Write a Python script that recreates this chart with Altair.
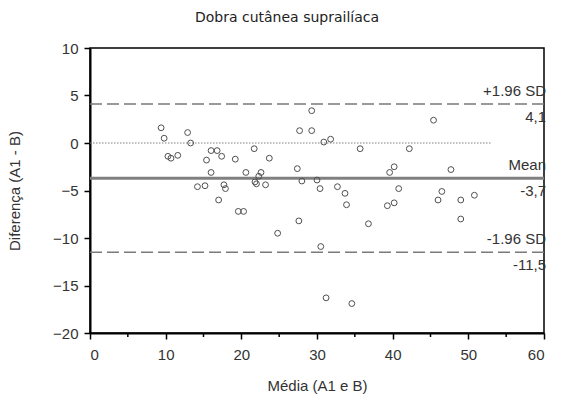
import altair as alt
import pandas as pd

# Bland-Altman data
mean_ab = [9.4, 9.8, 12.9, 13.3, 10.3, 10.7, 11.6, 16.0, 16.8, 17.4,
           15.4, 19.2, 21.7, 16.0, 20.6, 22.6, 22.3, 21.8, 22.0, 14.2,
           15.2, 17.7, 17.9, 23.2, 17.0, 19.6, 20.3, 23.7, 24.8, 27.4,
           27.7, 29.3, 29.3, 28.0, 30.0, 30.4, 30.9, 31.8, 27.6, 30.5,
           31.2, 34.6, 32.7, 33.7, 33.9, 35.7, 36.8, 39.3, 40.2, 39.6,
           40.2, 40.8, 42.2, 45.4, 46.0, 46.5, 47.7, 49.0, 49.0, 50.8]
diff_ab = [1.6, 0.5, 1.1, 0.0, -1.4, -1.6, -1.3, -0.8, -0.8, -1.4,
           -1.8, -1.7, -0.6, -3.1, -3.1, -3.1, -3.5, -4.1, -4.3, -4.6,
           -4.5, -4.4, -4.8, -4.4, -6.0, -7.2, -7.2, -1.6, -9.5, -2.7,
           1.3, 1.3, 3.4, -4.0, -3.9, -4.8, 0.1, 0.4, -8.2, -10.9,
           -16.3, -16.9, -4.6, -5.3, -6.5, -0.6, -8.5, -6.6, -6.3, -3.1,
           -2.5, -4.8, -0.6, 2.4, -6.0, -5.1, -2.8, -6.0, -8.0, -5.5]

limit_values = [4.1, -11.5]
mean_value = [-3.7]
ref_values = [4.1, -3.7, -11.5]
ref_names = ["+1.96 SD", "Mean", "-1.96 SD"]
ref_numbers = ["4,1", "-3,7", "-11,5"]
zero_line_start = [0]
zero_line_end = [53]
minor_ticks = [5, 15, 25, 35, 45, 55]

pts = pd.DataFrame({"x": mean_ab, "y": diff_ab})
limits = pd.DataFrame({"y": limit_values})
meanline = pd.DataFrame({"y": mean_value})
refs = pd.DataFrame({"y": ref_values, "name": ref_names, "num": ref_numbers})
zero = pd.DataFrame({"x": zero_line_start, "x2": zero_line_end, "y": [0]})
minors = pd.DataFrame({"x": minor_ticks})

xscale = alt.Scale(domain=[0, 60], nice=False, zero=False)
yscale = alt.Scale(domain=[-20, 10], nice=False, zero=False)

xaxis = alt.Axis(values=[0, 10, 20, 30, 40, 50, 60], title="Média (A1 e B)")
yaxis = alt.Axis(values=[-20, -15, -10, -5, 0, 5, 10], title="Diferença (A1 - B)")

points = alt.Chart(pts).mark_point(
    shape="circle", filled=False, size=34, color="#505050", strokeWidth=1, opacity=1
).encode(
    x=alt.X("x:Q", scale=xscale, axis=xaxis),
    y=alt.Y("y:Q", scale=yscale, axis=yaxis),
)

zero_rule = alt.Chart(zero).mark_rule(
    color="#808080", strokeDash=[1.5, 1.5], strokeWidth=1
).encode(x=alt.X("x:Q", scale=xscale), x2="x2:Q", y=alt.Y("y:Q", scale=yscale))

limit_rules = alt.Chart(limits).mark_rule(
    color="#7a7a7a", strokeDash=[12, 5], strokeWidth=1.5
).encode(y=alt.Y("y:Q", scale=yscale))

mean_rule = alt.Chart(meanline).mark_rule(
    color="#808080", strokeWidth=3
).encode(y=alt.Y("y:Q", scale=yscale))

names = alt.Chart(refs).mark_text(
    align="right", baseline="middle", dy=-13, dx=2,
    font="Liberation Sans", fontSize=15, color="#333333"
).encode(x=alt.value(454), y=alt.Y("y:Q", scale=yscale), text="name:N")

nums = alt.Chart(refs).mark_text(
    align="right", baseline="middle", dy=13, dx=2,
    font="Liberation Sans", fontSize=15, color="#333333"
).encode(x=alt.value(454), y=alt.Y("y:Q", scale=yscale), text="num:N")

minor_rule = alt.Chart(minors).mark_rule(color="black", strokeWidth=1.5).encode(
    x=alt.X("x:Q", scale=xscale), y=alt.value(285), y2=alt.value(289)
)

chart = alt.layer(
    zero_rule, limit_rules, mean_rule, points, names, nums, minor_rule
).properties(
    width=454,
    height=285,
    title=alt.TitleParams(
        "Dobra cutânea suprailíaca", font="DejaVu Sans", fontSize=14,
        fontWeight="normal", color="#222222", anchor="middle", offset=16, dx=-30
    ),
    autosize=alt.AutoSizeParams(type="none"),
    padding={"left": 90, "top": 48, "right": 17, "bottom": 68},
).configure_view(
    stroke="black", strokeWidth=1.5
).configure_axis(
    grid=False, domainColor="black", domainWidth=2, tickColor="black",
    tickWidth=1.5, tickSize=6, labelFont="Liberation Sans", labelFontSize=15,
    labelColor="#333333", titleFont="Liberation Sans", titleFontSize=15,
    titleFontWeight="normal", titleColor="#333333"
).configure_axisX(
    titlePadding=16, labelPadding=8
).configure_axisY(
    titlePadding=30, labelPadding=6
)

chart.save("out.html", embed_options={"renderer": "svg", "actions": False})
